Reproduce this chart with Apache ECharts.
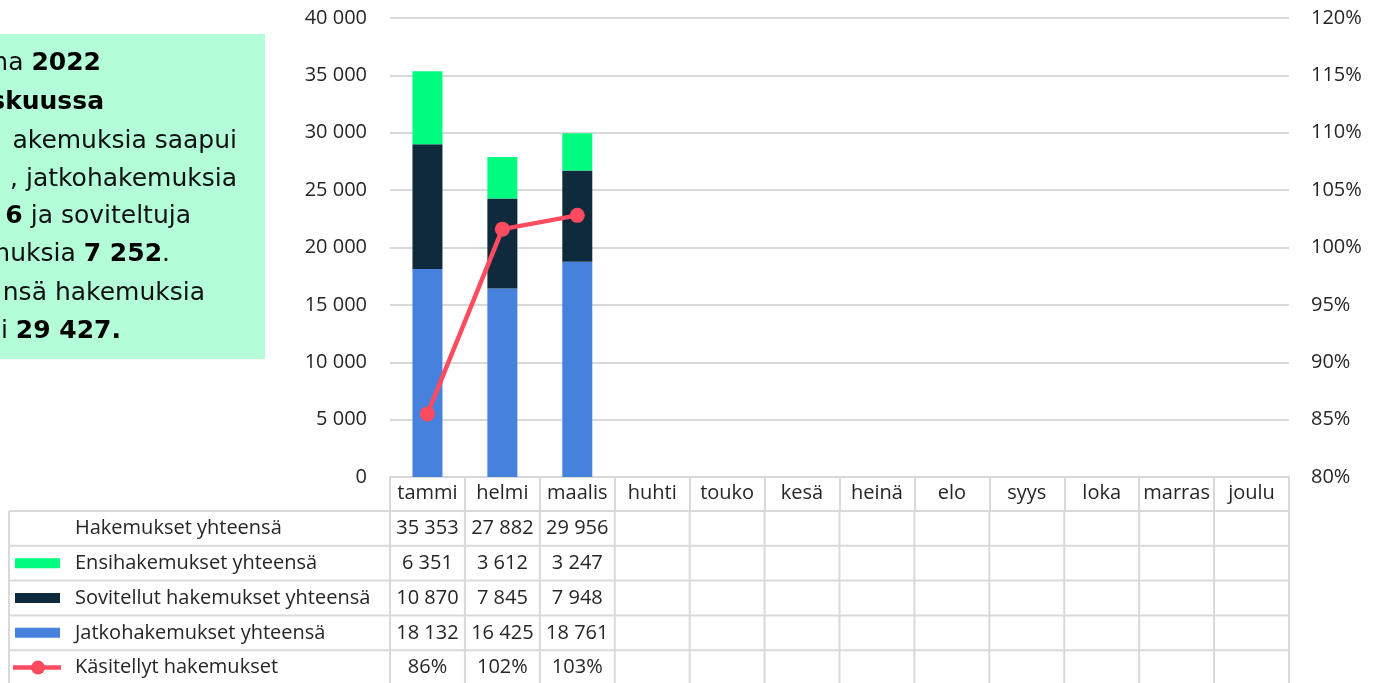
<!DOCTYPE html>
<html><head><meta charset="utf-8">
<script src="https://cdn.jsdelivr.net/npm/echarts@6/dist/echarts.min.js"></script>
<style>html,body{margin:0;padding:0;background:#fff}#c{width:1377px;height:683px}</style>
</head><body><div id="c"></div>
<script>
var categories = ['tammi','helmi','maalis','huhti','touko','kesä','heinä','elo','syys','loka','marras','joulu'];
var ensi = [6351, 3612, 3247];
var sovitellut = [10870, 7845, 7948];
var jatko = [18132, 16425, 18761];
var kasitellyt = [85.5, 101.6, 102.8];
var leftTicks = {min: 0, max: 40000, interval: 5000};
var rightTicks = {min: 80, max: 120, interval: 5};

var FONT = '"Open Sans"';
var BOXFONT = '"DejaVu Sans"';
var TXT = '#262626';
var GRID = '#d9d9d9';
var C_ENSI = '#00fd7f', C_SOV = '#0f2a3c', C_JAT = '#4682dd', C_LINE = '#ff4b5f';

function fmt(v){ return String(v).replace(/\B(?=(\d{3})+(?!\d))/g, ' '); }

var totals = jatko.map(function(v,i){ return v + sovitellut[i] + ensi[i]; });

var chart = echarts.init(document.getElementById('c'));
var option = {
  animation: false,
  textStyle: {fontFamily: FONT},
  grid: {left: 390, right: 88, top: 18, bottom: 206},
  xAxis: {
    type: 'category', data: categories,
    axisLine: {lineStyle: {color: GRID, width: 2}},
    axisTick: {show: true, interval: 0, length: 34, lineStyle: {color: GRID, width: 2}},
    axisLabel: {interval: 0, hideOverlap: false, color: TXT, fontSize: 20, fontFamily: FONT, margin: 6}
  },
  yAxis: [{
    type: 'value', min: leftTicks.min, max: leftTicks.max, interval: leftTicks.interval,
    axisLine: {show: false}, axisTick: {show: false},
    axisLabel: {color: TXT, fontSize: 20, fontFamily: FONT, margin: 23, formatter: function(v){ return fmt(v); }},
    splitLine: {lineStyle: {color: GRID, width: 2}}
  },{
    type: 'value', min: rightTicks.min, max: rightTicks.max, interval: rightTicks.interval,
    axisLine: {show: false}, axisTick: {show: false},
    axisLabel: {color: TXT, fontSize: 20, fontFamily: FONT, margin: 22, formatter: '{value}%'},
    splitLine: {show: false}
  }],
  series: [
    {name: 'Jatkohakemukset yhteensä', type: 'bar', stack: 's', data: jatko, barWidth: 30, itemStyle: {color: C_JAT}},
    {name: 'Sovitellut hakemukset yhteensä', type: 'bar', stack: 's', data: sovitellut, barWidth: 30, itemStyle: {color: C_SOV}},
    {name: 'Ensihakemukset yhteensä', type: 'bar', stack: 's', data: ensi, barWidth: 30, itemStyle: {color: C_ENSI}},
    {name: 'Käsitellyt hakemukset', type: 'line', yAxisIndex: 1, data: kasitellyt, symbol: 'circle', symbolSize: 15,
     lineStyle: {color: C_LINE, width: 4.5}, itemStyle: {color: C_LINE}}
  ]
};
chart.setOption(option);

// Build the data table and text box
var g = [];
var n = categories.length;
var c0 = chart.convertToPixel({xAxisIndex: 0}, 0);
var c1 = chart.convertToPixel({xAxisIndex: 0}, 1);
var band = c1 - c0;
var colLeft = c0 - band/2;
var colRight = colLeft + band*n;
var tableLeft = 9;
var tableTop = 511;
var rowH = 34.8;
var rows = [
  {label: 'Hakemukset yhteensä', key: null, vals: totals.map(fmt)},
  {label: 'Ensihakemukset yhteensä', key: C_ENSI, vals: ensi.map(fmt)},
  {label: 'Sovitellut hakemukset yhteensä', key: C_SOV, vals: sovitellut.map(fmt)},
  {label: 'Jatkohakemukset yhteensä', key: C_JAT, vals: jatko.map(fmt)},
  {label: 'Käsitellyt hakemukset', key: 'line', vals: kasitellyt.map(function(v){ return Math.round(v) + '%'; })}
];
var bottom = tableTop + rowH*rows.length;
for (var r = 0; r <= rows.length; r++) {
  var y = tableTop + rowH*r;
  g.push({type: 'line', shape: {x1: tableLeft, y1: y, x2: colRight, y2: y}, style: {stroke: GRID, lineWidth: 2}, silent: true});
}
g.push({type: 'line', shape: {x1: tableLeft, y1: tableTop, x2: tableLeft, y2: bottom}, style: {stroke: GRID, lineWidth: 2}});
for (var i = 0; i <= n; i++) {
  var x = colLeft + band*i;
  g.push({type: 'line', shape: {x1: x, y1: tableTop, x2: x, y2: bottom}, style: {stroke: GRID, lineWidth: 2}});
}
rows.forEach(function(row, r){
  var yc = tableTop + rowH*r + rowH/2;
  g.push({type: 'text', style: {x: 75, y: yc, text: row.label, fill: TXT, font: '20px ' + FONT, verticalAlign: 'middle', align: 'left'}});
  if (row.key === 'line') {
    g.push({type: 'line', shape: {x1: 13, y1: yc, x2: 61, y2: yc}, style: {stroke: C_LINE, lineWidth: 4.5}});
    g.push({type: 'circle', shape: {cx: 38, cy: yc, r: 7}, style: {fill: C_LINE}});
  } else if (row.key) {
    g.push({type: 'rect', shape: {x: 15, y: yc - 5, width: 45, height: 10}, style: {fill: row.key}});
  }
  row.vals.forEach(function(v, i){
    var xc = chart.convertToPixel({xAxisIndex: 0}, i);
    g.push({type: 'text', style: {x: xc, y: yc, text: v, fill: TXT, font: '20px ' + FONT, verticalAlign: 'middle', align: 'center'}});
  });
});
// Text box
g.push({type: 'rect', z: 0, shape: {x: 0, y: 34, width: 265, height: 325}, style: {fill: '#b3fdd9'}});
var boxLines = [
  {t: '{n|na }{b|2022}', x: 101, y: 63},
  {t: '{b|skuussa}', x: 104, y: 102},
  {t: '{n|akemuksia saapui}', x: 237, y: 141},
  {t: '{n|, jatkohakemuksia}', x: 237, y: 179},
  {t: '{b|6}{n| ja soviteltuja}', x: 191, y: 216},
  {t: '{n|muksia }{b|7 252}{n|.}', x: 170, y: 254},
  {t: '{n|nsä hakemuksia}', x: 205, y: 293},
  {t: '{n|i }{b|29 427.}', x: 121, y: 331}
];
boxLines.forEach(function(l){
  g.push({type: 'text', z: 1, style: {x: l.x, y: l.y, text: l.t, align: 'right', verticalAlign: 'middle',
    rich: {n: {fontFamily: BOXFONT, fontSize: 25, fill: '#111', color: '#111'},
           b: {fontFamily: BOXFONT, fontSize: 25, fontWeight: 'bold', fill: '#000', color: '#000'}}}});
});
chart.setOption({graphic: {elements: g}});
</script>
</body></html>
